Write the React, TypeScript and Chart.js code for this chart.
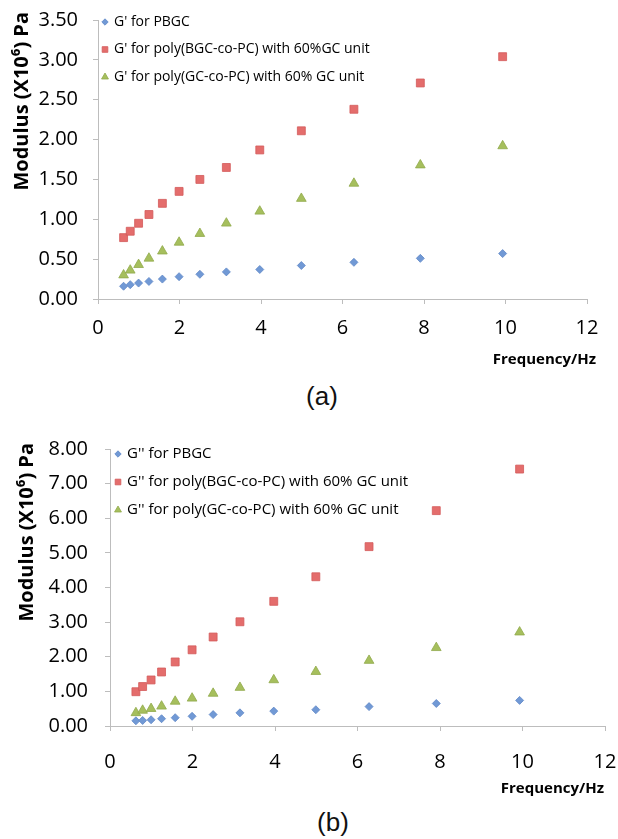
import React, { useEffect, useRef } from 'react';
import { Chart, registerables } from 'chart.js';

Chart.register(...registerables);

// ---- data ----
const frequencies = [0.628, 0.791, 0.996, 1.25, 1.58, 1.99, 2.5, 3.15, 3.97, 4.99, 6.28, 7.91, 9.93];

const gPrimePBGC = [0.16, 0.18, 0.2, 0.22, 0.25, 0.28, 0.31, 0.34, 0.37, 0.42, 0.46, 0.51, 0.57];
const gPrimeBGC = [0.77, 0.85, 0.95, 1.06, 1.2, 1.35, 1.5, 1.65, 1.87, 2.11, 2.38, 2.71, 3.04];
const gPrimeGC = [0.3, 0.36, 0.43, 0.51, 0.6, 0.71, 0.82, 0.95, 1.1, 1.26, 1.45, 1.68, 1.92];

const gDoublePBGC = [0.15, 0.16, 0.18, 0.21, 0.24, 0.28, 0.33, 0.38, 0.43, 0.47, 0.56, 0.65, 0.74];
const gDoubleBGC = [0.99, 1.14, 1.33, 1.56, 1.85, 2.2, 2.57, 3.01, 3.6, 4.31, 5.18, 6.22, 7.42];
const gDoubleGC = [0.38, 0.45, 0.5, 0.57, 0.71, 0.8, 0.94, 1.11, 1.33, 1.57, 1.89, 2.26, 2.71];

const labelsA = [
  "G' for PBGC",
  "G' for poly(BGC-co-PC) with 60%GC unit",
  "G' for poly(GC-co-PC) with 60% GC unit",
];
const labelsB = [
  "G'' for PBGC",
  "G'' for poly(BGC-co-PC) with 60% GC unit",
  "G'' for poly(GC-co-PC) with 60% GC unit",
];

const yTitle = 'Modulus (X10\u2076) Pa';
const xTitle = 'Frequency/Hz';
const captionA = '(a)';
const captionB = '(b)';

// ---- styles ----
const BLUE = '#7199D5';
const BLUE_B = '#5F88C6';
const RED = '#E46D6C';
const RED_B = '#D35B5A';
const GREEN = '#A6BF5D';
const GREEN_B = '#91AA4B';
const AXIS = '#BDBDBD';
const FONT = "'Open Sans', 'DejaVu Sans', sans-serif";

function drawMarker(ctx: CanvasRenderingContext2D, style: string, x: number, y: number, r: number, fill: string, stroke: string) {
  ctx.beginPath();
  if (style === 'rectRot') {
    ctx.moveTo(x - r, y);
    ctx.lineTo(x, y - r);
    ctx.lineTo(x + r, y);
    ctx.lineTo(x, y + r);
    ctx.closePath();
  } else if (style === 'rect') {
    const s = r * Math.SQRT1_2;
    ctx.rect(x - s, y - s, 2 * s, 2 * s);
  } else {
    ctx.moveTo(x, y - r);
    ctx.lineTo(x + r * Math.sin((2 * Math.PI) / 3), y - r * Math.cos((2 * Math.PI) / 3));
    ctx.lineTo(x + r * Math.sin((4 * Math.PI) / 3), y - r * Math.cos((4 * Math.PI) / 3));
    ctx.closePath();
  }
  ctx.fillStyle = fill;
  ctx.fill();
  ctx.strokeStyle = stroke;
  ctx.lineWidth = 0.8;
  ctx.stroke();
}

const insideLegend = {
  id: 'insideLegend',
  afterDraw(chart: any, _args: any, opts: any) {
    const ctx = chart.ctx as CanvasRenderingContext2D;
    ctx.save();
    ctx.font = opts.font;
    ctx.textBaseline = 'middle';
    ctx.textAlign = 'left';
    chart.data.datasets.forEach((ds: any, i: number) => {
      const y = opts.y + i * opts.spacing;
      const r = ds.pointStyle === 'rectRot' ? opts.radius * 0.8 : opts.radius;
      drawMarker(ctx, ds.pointStyle, opts.x, y, r, ds.backgroundColor, ds.borderColor);
      ctx.fillStyle = '#000';
      ctx.fillText(ds.label, opts.x + opts.gap, y);
    });
    ctx.restore();
  },
};

const axisTitles = {
  id: 'axisTitles',
  afterDraw(chart: any, _args: any, o: any) {
    const ctx = chart.ctx as CanvasRenderingContext2D;
    ctx.save();
    ctx.fillStyle = '#000';
    ctx.font = `bold ${o.ySize}px ${FONT}`;
    ctx.translate(o.yX, o.yTop);
    ctx.rotate(-Math.PI / 2);
    ctx.textAlign = 'right';
    ctx.textBaseline = 'middle';
    ctx.fillText(o.yText, 0, 0);
    ctx.restore();

    ctx.save();
    ctx.fillStyle = '#000';
    ctx.font = `bold ${o.xSize}px ${FONT}`;
    ctx.textAlign = 'right';
    ctx.textBaseline = 'middle';
    ctx.fillText(o.xText, o.xRight, o.xY);
    ctx.restore();
  },
};

interface PanelProps {
  width: number;
  height: number;
  series: number[][];
  labels: string[];
  yMax: number;
  yStep: number;
  area: { left: number; right: number; top: number; bottom: number };
  xTickPad: number;
  yTickPad: number;
  titles: { yX: number; yTop: number; ySize: number; xRight: number; xY: number; xSize: number };
  legend: { x: number; y: number; spacing: number; size: number };
}

function Panel(p: PanelProps) {
  const ref = useRef<HTMLCanvasElement | null>(null);
  useEffect(() => {
    if (!ref.current) return;
    const styles = [
      { pointStyle: 'rectRot', bg: BLUE, bd: BLUE_B, r: 4 },
      { pointStyle: 'rect', bg: RED, bd: RED_B, r: 5.6 },
      { pointStyle: 'triangle', bg: GREEN, bd: GREEN_B, r: 5.6 },
    ];
    const datasets = p.series.map((vals, i) => ({
      label: p.labels[i],
      data: frequencies.map((f, j) => ({ x: f, y: vals[j] })),
      pointStyle: styles[i].pointStyle,
      backgroundColor: styles[i].bg,
      borderColor: styles[i].bd,
      borderWidth: 0.8,
      pointRadius: styles[i].r,
      pointHoverRadius: styles[i].r,
      showLine: false,
    }));
    const chart = new Chart(ref.current, {
      type: 'scatter',
      data: { datasets },
      plugins: [insideLegend, axisTitles],
      options: {
        animation: false,
        responsive: false,
        layout: {
          padding: { left: 0, top: p.area.top, right: p.width - p.area.right, bottom: 0 },
        },
        plugins: {
          legend: { display: false },
          tooltip: { enabled: false },
          insideLegend: {
            x: p.legend.x,
            y: p.legend.y,
            spacing: p.legend.spacing,
            gap: 9,
            radius: 4,
            font: `${p.legend.size}px ${FONT}`,
          },
          axisTitles: { ...p.titles, yText: yTitle, xText: xTitle },
        } as any,
        scales: {
          x: {
            type: 'linear',
            min: 0,
            max: 12,
            ticks: {
              stepSize: 2,
              color: '#000',
              padding: p.xTickPad,
              font: { family: FONT, size: 20 },
            },
            grid: { drawOnChartArea: false, drawTicks: true, tickLength: 5, color: AXIS },
            border: { display: true, color: AXIS },
            title: { display: false },
            afterFit: (s: any) => {
              s.height = p.height - p.area.bottom;
              s.paddingLeft = 0;
              s.paddingRight = 0;
            },
          },
          y: {
            type: 'linear',
            min: 0,
            max: p.yMax,
            ticks: {
              stepSize: p.yStep,
              color: '#000',
              padding: p.yTickPad,
              font: { family: FONT, size: 20 },
              callback: (v: any) => Number(v).toFixed(2),
            },
            grid: { drawOnChartArea: false, drawTicks: true, tickLength: 5, color: AXIS },
            border: { display: true, color: AXIS },
            title: { display: false },
            afterFit: (s: any) => {
              s.width = p.area.left;
              s.paddingTop = 0;
              s.paddingBottom = 0;
            },
          },
        },
      } as any,
    });
    return () => chart.destroy();
  }, []);
  return <canvas ref={ref} width={p.width} height={p.height} style={{ display: 'block', width: p.width, height: p.height }} />;
}

const captionStyle: React.CSSProperties = {
  position: 'absolute',
  width: 100,
  textAlign: 'center',
  fontFamily: "'Liberation Sans', Arial, sans-serif",
  fontSize: 26,
  lineHeight: '30px',
  color: '#111',
};

export default function App() {
  return (
    <div style={{ position: 'absolute', left: 0, top: 0, width: 618, height: 839, background: '#fff', overflow: 'hidden' }}>
      <div style={{ position: 'absolute', left: 0, top: 0 }}>
        <Panel
          width={618}
          height={375}
          series={[gPrimePBGC, gPrimeBGC, gPrimeGC]}
          labels={labelsA}
          yMax={3.5}
          yStep={0.5}
          area={{ left: 98, right: 587, top: 20, bottom: 299 }}
          xTickPad={12}
          yTickPad={15}
          titles={{ yX: 22, yTop: 12, ySize: 20, xRight: 596, xY: 360, xSize: 15 }}
          legend={{ x: 105, y: 22, spacing: 27.5, size: 14 }}
        />
      </div>
      <div style={{ ...captionStyle, left: 272, top: 381 }}>{captionA}</div>
      <div style={{ position: 'absolute', left: 0, top: 420 }}>
        <Panel
          width={618}
          height={380}
          series={[gDoublePBGC, gDoubleBGC, gDoubleGC]}
          labels={labelsB}
          yMax={8}
          yStep={1}
          area={{ left: 110, right: 605, top: 29, bottom: 306 }}
          xTickPad={19}
          yTickPad={17}
          titles={{ yX: 27, yTop: 23, ySize: 20, xRight: 604, xY: 369, xSize: 15 }}
          legend={{ x: 118, y: 34, spacing: 28, size: 15 }}
        />
      </div>
      <div style={{ ...captionStyle, left: 283, top: 807 }}>{captionB}</div>
    </div>
  );
}
